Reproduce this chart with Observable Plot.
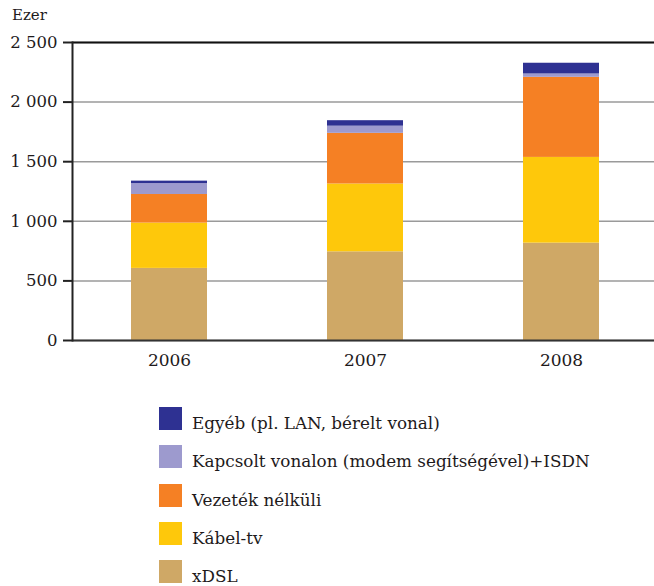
<!DOCTYPE html>
<html><head><meta charset="utf-8">
<script src="https://cdn.jsdelivr.net/npm/d3@7"></script>
<script src="https://cdn.jsdelivr.net/npm/@observablehq/plot@0.6"></script>
<style>
body{margin:0;background:#fff;font-family:"DejaVu Serif",serif;color:#1e1a1b;}
#wrap{position:relative;width:654px;height:586px;overflow:hidden;}
#unit{position:absolute;left:12px;top:6px;font-size:15px;line-height:18px;}
#chart{position:absolute;left:0;top:0;}
#legend{position:absolute;left:159px;top:402px;}
.row{display:flex;height:38.3px;}
.sw{width:23px;height:23px;margin-top:5px;margin-right:10px;flex:none;}
.lb{font-size:16.8px;line-height:20px;padding-top:11px;white-space:nowrap;}
</style></head><body>
<div id="wrap"><div id="chart"></div><div id="unit">Ezer</div><div id="legend"></div></div>
<script>
const years = ["2006", "2007", "2008"];
const series = ["xDSL", "Kábel-tv", "Vezeték nélküli", "Kapcsolt vonalon (modem segítségével)+ISDN", "Egyéb (pl. LAN, bérelt vonal)"];
const xdsl = [605, 744, 817];
const kabel = [380, 569, 719];
const vezetek = [240, 425, 672];
const kapcsolt = [92, 60, 28];
const egyeb = [20, 46, 90];
const colors = ["#cfa866", "#fec80b", "#f58024", "#9d9ace", "#2e3192"];
const yTicks = [0, 500, 1000, 1500, 2000, 2500];
const yTickLabels = ["0", "500", "1 000", "1 500", "2 000", "2 500"];

const seriesValues = [xdsl, kabel, vezetek, kapcsolt, egyeb];
const data = [];
series.forEach((s, i) => years.forEach((y, j) => data.push({year: y, series: s, value: seriesValues[i][j]})));

const chart = Plot.plot({
  width: 654, height: 372,
  marginLeft: 72, marginRight: 0, marginTop: 42, marginBottom: 32,
  style: {fontFamily: "DejaVu Serif", fontSize: "16px", color: "#1e1a1b", background: "transparent"},
  x: {domain: years, paddingInner: 0.612, paddingOuter: 0.29, align: 0.52},
  y: {domain: [0, 2500]},
  color: {domain: series, range: colors},
  marks: [
    Plot.gridY(yTicks, {stroke: "#9a9a9a", strokeOpacity: 1, strokeWidth: 1.5}),
    Plot.ruleY([2500], {stroke: "#111", strokeWidth: 2}),
    Plot.barY(data, {x: "year", y: "value", fill: "series"}),
    Plot.ruleY([0], {stroke: "#333", strokeWidth: 2}),
    Plot.frame({anchor: "left", stroke: "#222", strokeWidth: 2}),
    Plot.axisY({ticks: yTicks, tickFormat: d => yTickLabels[yTicks.indexOf(d)], tickSize: 9, tickPadding: 6, label: null, fontSize: 16.5, stroke: "#222", strokeWidth: 2}),
    Plot.axisX({tickSize: 0, tickPadding: 13, label: null, fontSize: 17})
  ]
});
document.getElementById("chart").appendChild(chart);

const legend = document.getElementById("legend");
for (let i = series.length - 1; i >= 0; i--) {
  const row = document.createElement("div");
  row.className = "row";
  row.innerHTML = `<div class="sw" style="background:${colors[i]}"></div><div class="lb">${series[i]}</div>`;
  legend.appendChild(row);
}
</script>
</body></html>
